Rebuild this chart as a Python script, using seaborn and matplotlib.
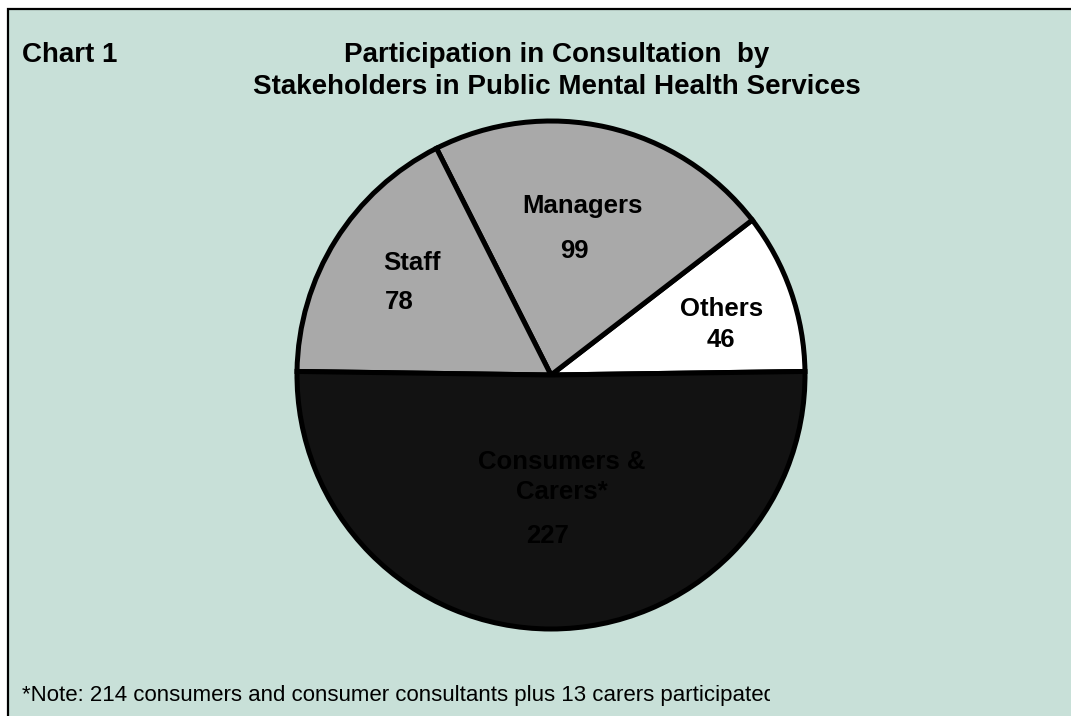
import matplotlib
matplotlib.use("Agg")
import matplotlib.pyplot as plt
import seaborn as sns
from matplotlib.patches import Rectangle
from matplotlib.transforms import Bbox

# Stakeholder groups, counter-clockwise from the 3 o'clock position
groups = ["Others", "Managers", "Staff", "Consumers &\nCarers*"]
counts = [46, 99, 78, 227]
slice_colors = ["#FFFFFF", "#A9A9A9", "#A9A9A9", "#121212"]

chart_tag = "Chart 1"
title_lines = ["Participation in Consultation  by",
               "Stakeholders in Public Mental Health Services"]
note_text = "*Note: 214 consumers and consumer consultants plus 13 carers participated"

sns.set_theme(style="white")
plt.rcParams["font.family"] = ["Liberation Sans", "DejaVu Sans"]

W, H = 1071, 716
fig = plt.figure(figsize=(W / 100, H / 100), dpi=100)
fig.patch.set_facecolor("white")
ax = fig.add_axes([0, 0, 1, 1])

# Pie geometry in pixel-like axis units (y grows downward)
cx, cy, r = 551, 375, 254

wedges, _ = ax.pie(
    counts,
    colors=slice_colors,
    startangle=-0.8,
    counterclock=False,      # y axis is inverted, so this runs anticlockwise on screen
    center=(cx, cy),
    radius=r,
    frame=True,
    wedgeprops=dict(edgecolor="black", linewidth=3.6, joinstyle="miter"),
)
for w in wedges:
    w.set_zorder(2)

ax.set_xlim(0, W)
ax.set_ylim(H, 0)
ax.set_aspect("equal", adjustable="box")
ax.axis("off")

# Chart panel: light green box with a thin black frame
ax.add_patch(Rectangle((8, 9), W + 50, H + 50, facecolor="#C8E0D8",
                       edgecolor="black", linewidth=1.6, zorder=0))

# Slice labels: name and value offsets from the pie centre
name_offsets = [(171, -66), (31, -169), (-139, -112), (11, 102)]
value_offsets = [(170, -35), (23, -124), (-152, -73), (-3, 161)]
for g, v, (nx, ny), (vx, vy) in zip(groups, counts, name_offsets, value_offsets):
    ax.text(cx + nx, cy + ny, g, ha="center", va="center", fontsize=18.5,
            fontweight="bold", color="black", linespacing=1.35, zorder=3)
    ax.text(cx + vx, cy + vy, str(v), ha="center", va="center", fontsize=18.5,
            fontweight="bold", color="black", zorder=3)

# Header
ax.text(22, 55, chart_tag, ha="left", va="center", fontsize=20,
        fontweight="bold", color="black")
ax.text(557, 55, title_lines[0], ha="center", va="center", fontsize=20,
        fontweight="bold", color="black")
ax.text(557, 87, title_lines[1], ha="center", va="center", fontsize=20,
        fontweight="bold", color="black")

# Footnote, cut off at the right like the text box it sits in
note = ax.text(22, 695, note_text, ha="left", va="center", fontsize=16,
               color="black")
note.set_clip_on(True)
note.set_clip_box(Bbox.from_extents(0, 0, 770, H))

fig.savefig("out.png", dpi=100, facecolor=fig.get_facecolor())
